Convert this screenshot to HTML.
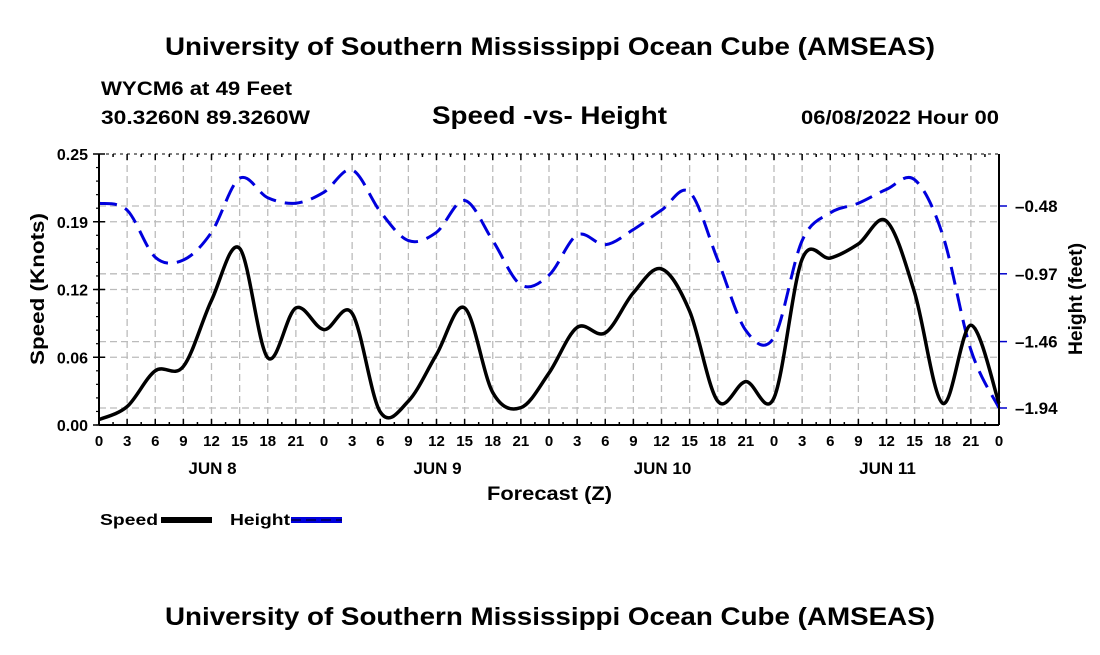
<!DOCTYPE html>
<html><head><meta charset="utf-8"><style>
body{margin:0;background:#fff;width:1100px;height:650px;overflow:hidden;font-family:"Liberation Sans",Arial,sans-serif}
svg text{font-family:"Liberation Sans",Arial,sans-serif;font-weight:bold;fill:#000}
</style></head><body>
<svg id="chart" width="1100" height="650" viewBox="0 0 1100 650" xmlns="http://www.w3.org/2000/svg">
<text x="165" y="55" font-size="25" textLength="770" lengthAdjust="spacingAndGlyphs">University of Southern Mississippi Ocean Cube (AMSEAS)</text>
<text x="101" y="95" font-size="19" textLength="191" lengthAdjust="spacingAndGlyphs">WYCM6 at 49 Feet</text>
<text x="101" y="124" font-size="19" textLength="209" lengthAdjust="spacingAndGlyphs">30.3260N  89.3260W</text>
<text x="432" y="124" font-size="25" textLength="235" lengthAdjust="spacingAndGlyphs">Speed -vs- Height</text>
<text x="801" y="124" font-size="19" textLength="198" lengthAdjust="spacingAndGlyphs">06/08/2022 Hour 00</text>
<text x="165" y="625" font-size="25" textLength="770" lengthAdjust="spacingAndGlyphs">University of Southern Mississippi Ocean Cube (AMSEAS)</text>
<g id="grid"></g>
<g id="series"></g>
<g id="axes"></g>
<text x="487" y="500" font-size="19" textLength="125" lengthAdjust="spacingAndGlyphs">Forecast (Z)</text>
<text transform="translate(44,365) rotate(-90)" font-size="19" textLength="152" lengthAdjust="spacingAndGlyphs">Speed (Knots)</text>
<text transform="translate(1082,355) rotate(-90)" font-size="19" textLength="112" lengthAdjust="spacingAndGlyphs">Height (feet)</text>
<g>
<text x="100" y="525" font-size="16" textLength="58" lengthAdjust="spacingAndGlyphs">Speed</text>
<rect x="161" y="517" width="51" height="6" fill="#000"/>
</g>
<g>
<text x="230" y="525" font-size="16" textLength="60" lengthAdjust="spacingAndGlyphs">Height</text>
<rect x="291" y="517" width="51" height="6" fill="#0000dd"/>
<line x1="291" y1="520" x2="342" y2="520" stroke="#000050" stroke-width="1.5" stroke-dasharray="10,5"/>
</g>
</svg>
<script>
const hours = [0,3,6,9,12,15,18,21,24,27,30,33,36,39,42,45,48,51,54,57,60,63,66,69,72,75,78,81,84,87,90,93,96];
const speedValues = [0.005,0.017,0.050,0.054,0.115,0.163,0.062,0.108,0.088,0.103,0.012,0.022,0.065,0.108,0.030,0.016,0.048,0.090,0.085,0.122,0.144,0.105,0.022,0.040,0.025,0.153,0.154,0.167,0.188,0.122,0.020,0.092,0.020];
const heightValues = [-0.46,-0.51,-0.85,-0.87,-0.67,-0.28,-0.42,-0.46,-0.38,-0.22,-0.52,-0.73,-0.67,-0.44,-0.73,-1.05,-0.98,-0.69,-0.76,-0.65,-0.51,-0.38,-0.87,-1.38,-1.43,-0.73,-0.53,-0.46,-0.36,-0.29,-0.69,-1.52,-1.94];
const xTickLabels = ["0","3","6","9","12","15","18","21","0","3","6","9","12","15","18","21","0","3","6","9","12","15","18","21","0","3","6","9","12","15","18","21","0"];
const dayLabels = ["JUN 8","JUN 9","JUN 10","JUN 11"];
const leftTicks = [0,0.0625,0.125,0.1875,0.25];
const leftTickLabels = ["0.00","0.06","0.12","0.19","0.25"];
const rightTicks = [-0.48,-0.97,-1.46,-1.94];
const rightTickLabels = ["\u20130.48","\u20130.97","\u20131.46","\u20131.94"];

const X0=99,X1=999,Y0=425,Y1=154;
const xs=h=>X0+(h/96)*(X1-X0);
const ySpeed=v=>Y0-(v/0.25)*(Y0-Y1);
const yHeight=v=>206+(-0.48-v)*(408-206)/(1.94-0.48);
const NS="http://www.w3.org/2000/svg";
function mk(tag,attrs,parent){const e=document.createElementNS(NS,tag);for(const k in attrs)e.setAttribute(k,attrs[k]);parent.appendChild(e);return e;}
const grid=document.getElementById('grid'),axes=document.getElementById('axes'),series=document.getElementById('series');
const gs={stroke:"#bbb","stroke-width":1.3,"stroke-dasharray":"7,4"};
hours.forEach((h,i)=>{
  if(i>0&&i<hours.length-1){const l=mk('line',Object.assign({x1:xs(h),x2:xs(h),y1:Y1,y2:Y0},gs),grid);
  
  }
  const t=mk('text',{x:xs(h),y:Y0+21,"font-size":15,"text-anchor":"middle"},axes);t.textContent=xTickLabels[i];
  
  
  mk('line',{x1:xs(h),x2:xs(h),y1:Y0,y2:Y0-6,stroke:"#000","stroke-width":1.5},axes);
  mk('line',{x1:xs(h),x2:xs(h),y1:Y1,y2:Y1+6,stroke:"#000","stroke-width":1.5},axes);
});
for(let h=1.5;h<96;h+=3){mk('line',{x1:xs(h),x2:xs(h),y1:Y0,y2:Y0-3,stroke:"#000","stroke-width":1.5},axes);mk('line',{x1:xs(h),x2:xs(h),y1:Y1,y2:Y1+3,stroke:"#000","stroke-width":1.5},axes);}
dayLabels.forEach((d,i)=>{const t=mk('text',{x:xs(12+24*i)+1,y:Y0+49,"font-size":17,"text-anchor":"middle"},axes);t.textContent=d;
  
  });
leftTicks.forEach((v,i)=>{
  const y=ySpeed(v);
  if(i>0&&i<leftTicks.length-1){const l=mk('line',Object.assign({x1:X0,x2:X1,y1:y,y2:y},gs),grid);
  
  }
  mk('line',{x1:X0-6,x2:X0+6,y1:y,y2:y,stroke:"#000","stroke-width":1.5},axes);
  const t=mk('text',{x:X0-11,y:y+6,"font-size":16,"text-anchor":"end"},axes);t.textContent=leftTickLabels[i];
  
  
});
for(let v=0;v<=0.25;v+=0.0125){const y=ySpeed(v);mk('line',{x1:X0-3,x2:X0,y1:y,y2:y,stroke:"#000","stroke-width":1.2},axes);}
rightTicks.forEach((v,i)=>{
  const y=yHeight(v);
  const l=mk('line',Object.assign({x1:X0,x2:X1,y1:y,y2:y},gs),grid);
  
  
  mk('line',{x1:X1,x2:X1+8,y1:y,y2:y,stroke:"#0000cc","stroke-width":1.5},axes);
  const t=mk('text',{x:X1+16,y:y+6,"font-size":17},axes);t.textContent=rightTickLabels[i];
  
  
});
mk('line',{x1:X0,x2:X0,y1:Y1,y2:Y0,stroke:"#000","stroke-width":2},axes);
mk('line',{x1:X1,x2:X1,y1:Y1,y2:Y0,stroke:"#000","stroke-width":2},axes);
mk('line',{x1:X0,x2:X1,y1:Y0,y2:Y0,stroke:"#000","stroke-width":2},axes);
mk('line',{x1:X0,x2:X1,y1:Y1,y2:Y1,stroke:"#000","stroke-width":1,"stroke-dasharray":"3,4"},axes);
function smooth(pts){let d=`M${pts[0][0]},${pts[0][1]}`;
  for(let i=0;i<pts.length-1;i++){const p0=pts[Math.max(i-1,0)],p1=pts[i],p2=pts[i+1],p3=pts[Math.min(i+2,pts.length-1)];
    d+=` C${p1[0]+(p2[0]-p0[0])/6},${p1[1]+(p2[1]-p0[1])/6} ${p2[0]-(p3[0]-p1[0])/6},${p2[1]-(p3[1]-p1[1])/6} ${p2[0]},${p2[1]}`;}
  return d;}
const hp=mk('path',{d:smooth(hours.map((h,i)=>[xs(h),yHeight(heightValues[i])])),fill:"none",stroke:"#0000dd","stroke-width":3,"stroke-dasharray":"18,9"},series);


const sp=mk('path',{d:smooth(hours.map((h,i)=>[xs(h),ySpeed(speedValues[i])])),fill:"none",stroke:"#000","stroke-width":3.5,"stroke-linejoin":"round"},series);


</script>
</body></html>
